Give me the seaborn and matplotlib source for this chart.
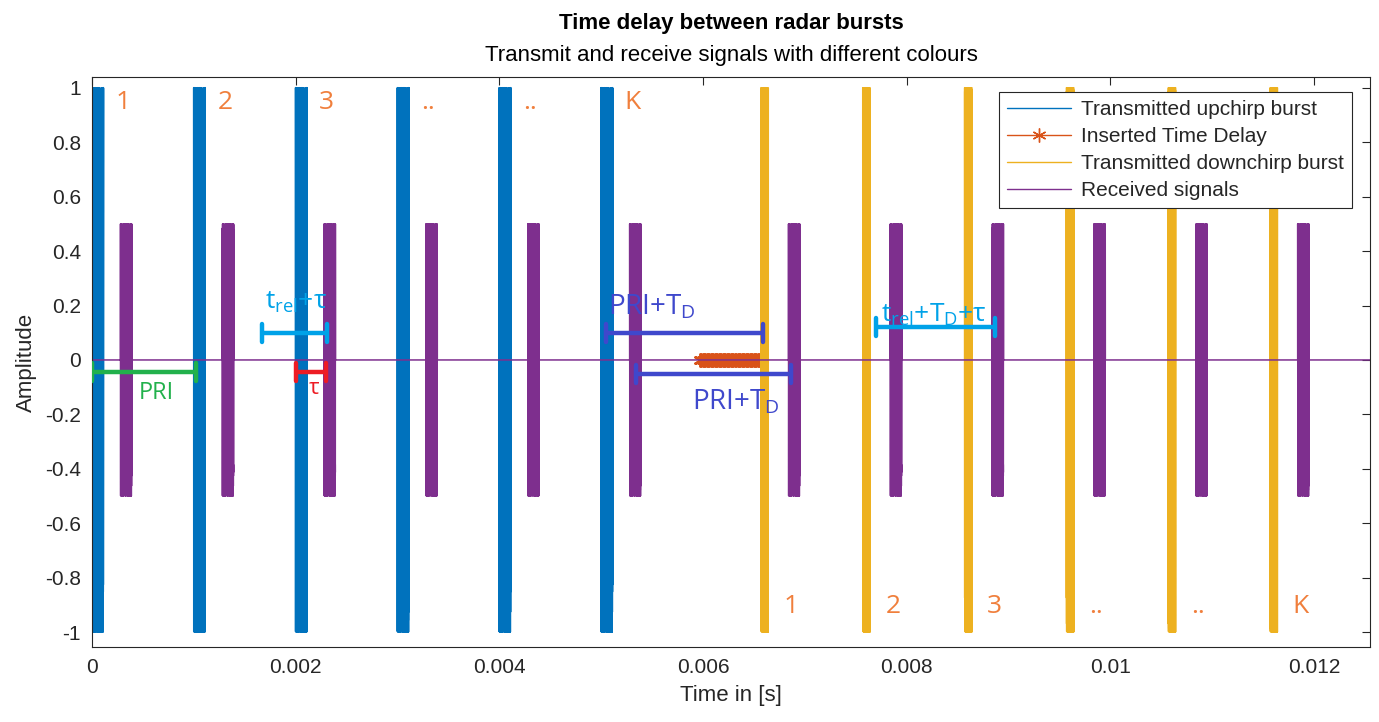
import numpy as np
import pandas as pd
import matplotlib
matplotlib.use("Agg")
import matplotlib.pyplot as plt
from matplotlib.lines import Line2D
import seaborn as sns

# ---------------- data ----------------
up_starts = [0.0, 0.001, 0.002, 0.003, 0.004, 0.005]            # transmitted upchirp bursts [s]
down_starts = [0.00657, 0.00757, 0.00857, 0.00957, 0.01057, 0.01157]  # transmitted downchirp bursts [s]
rx_starts = [0.00028, 0.00128, 0.00228, 0.00328, 0.00428, 0.00528,
             0.00684, 0.00784, 0.00884, 0.00984, 0.01084, 0.01184]  # received bursts [s]
burst_len = [0.00011, 0.00007, 0.00011]     # up, down, received durations [s]
burst_amp = [1.0, 1.0, 0.5]                 # up, down, received amplitudes
chirp_f = [0.4e6, 2.0e6]                    # chirp frequency sweep [Hz]
fs = 1.0e7                                  # sample rate [Hz]
t_end = 0.0126                              # end of received record [s]
delay_span = [0.00597, 0.00655]             # inserted time delay [s]
delay_points = 45

burst_labels = ["1", "2", "3", "..", "..", "K"]

# annotation brackets: (x0, x1, y, colour)
brackets = [
    (0.0, 0.00102, -0.045, "#22B14C"),
    (0.00200, 0.00230, -0.045, "#ED1C24"),
    (0.00167, 0.00231, 0.10, "#00A2E8"),
    (0.00505, 0.00659, 0.10, "#3F48CC"),
    (0.00534, 0.00686, -0.05, "#3F48CC"),
    (0.00770, 0.00887, 0.12, "#00A2E8"),
]
bracket_texts = [
    (0.00063, -0.12, "PRI", "#22B14C", 17),
    (0.00218, -0.105, "τ", "#ED1C24", 16),
    (0.00200, 0.21, r"$\mathregular{t_{rel}}$+τ", "#00A2E8", 19),
    (0.00550, 0.195, r"PRI+$\mathregular{T_D}$", "#3F48CC", 20),
    (0.00632, -0.155, r"PRI+$\mathregular{T_D}$", "#3F48CC", 20),
    (0.00827, 0.165, r"$\mathregular{t_{rel}}$+$\mathregular{T_D}$+τ", "#00A2E8", 19),
]

C_BLUE, C_ORANGE, C_YELLOW, C_PURPLE = "#0072BD", "#D95319", "#EDB120", "#7E2F8E"
C_TXT = "#F07F3C"
C_AX = "#262626"
ASTERISK = (6, 2, 0)


def chirp(t, dur, up=True):
    f0, f1 = chirp_f if up else chirp_f[::-1]
    return np.cos(2 * np.pi * (f0 * t + (f1 - f0) / (2 * dur) * t ** 2))


def burst_frame(starts, dur, amp, up):
    rows = []
    n = int(round(dur * fs)) + 1
    tt = np.linspace(0, dur, n)
    for i, s in enumerate(starts):
        rows.append(pd.DataFrame({"t": s + tt, "a": amp * chirp(tt, dur, up), "burst": i}))
    return pd.concat(rows, ignore_index=True)


up_df = burst_frame(up_starts, burst_len[0], burst_amp[0], True)
down_df = burst_frame(down_starts, burst_len[1], burst_amp[1], False)

t_rx = np.arange(0, t_end, 1 / fs)
a_rx = np.zeros_like(t_rx)
for s in rx_starts:
    m = (t_rx >= s) & (t_rx <= s + burst_len[2])
    a_rx[m] = burst_amp[2] * chirp(t_rx[m] - s, burst_len[2], True)
rx_df = pd.DataFrame({"t": t_rx, "a": a_rx})

delay_df = pd.DataFrame({"t": np.linspace(delay_span[0], delay_span[1], delay_points),
                         "a": np.zeros(delay_points)})

# ---------------- figure ----------------
sns.set_theme(style="white")
plt.rcParams["font.family"] = ["Liberation Sans", "DejaVu Sans"]

fig = plt.figure(figsize=(13.79, 7.22), dpi=100)
ax = fig.add_axes([92 / 1379, 75 / 722, (1370 - 92) / 1379, (647 - 77) / 722])

sns.lineplot(data=up_df, x="t", y="a", units="burst", estimator=None, sort=False,
             color=C_BLUE, lw=1.4, ax=ax)
sns.lineplot(data=delay_df, x="t", y="a", estimator=None, sort=False,
             color=C_ORANGE, lw=1.0, marker=ASTERISK, markersize=10, markeredgewidth=1.4,
             markeredgecolor=C_ORANGE, ax=ax)
sns.lineplot(data=down_df, x="t", y="a", units="burst", estimator=None, sort=False,
             color=C_YELLOW, lw=1.3, ax=ax)
sns.lineplot(data=rx_df, x="t", y="a", estimator=None, sort=False,
             color=C_PURPLE, lw=1.1, ax=ax)

ax.set_xlim(0, 0.01255)
ax.set_ylim(-1.055, 1.04)
ax.set_xticks([0, 0.002, 0.004, 0.006, 0.008, 0.01, 0.012])
ax.set_xticklabels(["0", "0.002", "0.004", "0.006", "0.008", "0.01", "0.012"])
yt = np.round(np.arange(-1, 1.01, 0.2), 1)
ax.set_yticks(yt)
ax.set_yticklabels([("%g" % v) if abs(v) > 1e-9 else "0" for v in yt])
ax.tick_params(axis="both", which="both", direction="in", length=6, width=0.8,
               colors=C_AX, labelsize=15, top=True, right=True, pad=8)
for sp in ax.spines.values():
    sp.set_color(C_AX)
    sp.set_linewidth(0.8)
ax.set_xlabel("Time in [s]", fontsize=16, color=C_AX, labelpad=6)
ax.set_ylabel("Amplitude", fontsize=16, color=C_AX, labelpad=6)

# burst numbering
for s, lab in zip(up_starts, burst_labels):
    ax.text(s + 0.00023, 0.945, lab, color=C_TXT, fontsize=19, family="Open Sans",
            ha="left", va="center")
for s, lab in zip(down_starts, burst_labels):
    ax.text(s + 0.00022, -0.905, lab, color=C_TXT, fontsize=19, family="Open Sans",
            ha="left", va="center")

# brackets
for x0, x1, y, c in brackets:
    ax.plot([x0, x1], [y, y], color=c, lw=3.2, solid_capstyle="butt", zorder=5)
    ax.plot([x0, x0], [y - 0.033, y + 0.033], color=c, lw=3.2, zorder=5)
    ax.plot([x1, x1], [y - 0.033, y + 0.033], color=c, lw=3.2, zorder=5)
for x, y, s, c, fsz in bracket_texts:
    ax.text(x, y, s, color=c, fontsize=fsz, family="Open Sans", ha="center", va="center",
            zorder=6)

handles = [
    Line2D([], [], color=C_BLUE, lw=1.0),
    Line2D([], [], color=C_ORANGE, lw=1.0, marker=ASTERISK, markersize=10, markeredgewidth=1.0),
    Line2D([], [], color=C_YELLOW, lw=1.0),
    Line2D([], [], color=C_PURPLE, lw=1.0),
]
labels = ["Transmitted upchirp burst", "Inserted Time Delay",
          "Transmitted downchirp burst", "Received signals"]
leg = ax.legend(handles, labels, loc="upper right", bbox_to_anchor=(1352 / 1379, 1 - 92 / 722),
                bbox_transform=fig.transFigure, fontsize=15, frameon=True, fancybox=False,
                framealpha=1, edgecolor=C_AX, handlelength=3.1, handletextpad=0.45,
                borderpad=0.4, labelspacing=0.38, borderaxespad=0)
leg.get_frame().set_linewidth(0.8)
for t in leg.get_texts():
    t.set_color(C_AX)

fig.text(0.5 * (92 + 1370) / 1379, 1 - 24 / 722, "Time delay between radar bursts",
         ha="center", va="center", fontsize=16, fontweight="bold", color="#000000")
fig.text(0.5 * (92 + 1370) / 1379, 1 - 55 / 722, "Transmit and receive signals with different colours",
         ha="center", va="center", fontsize=16, color="#000000")

fig.savefig("out.png", dpi=100)
